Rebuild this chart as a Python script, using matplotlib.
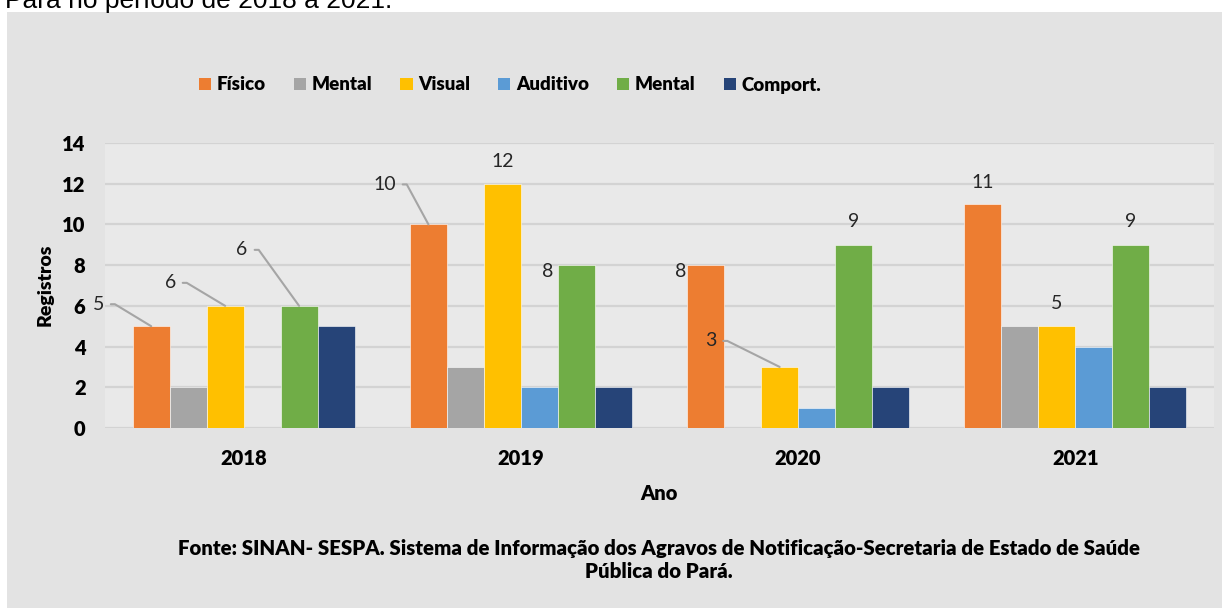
import matplotlib
matplotlib.use("Agg")
import matplotlib.pyplot as plt
from matplotlib.patches import Patch, Rectangle
import numpy as np

plt.rcParams['font.family'] = ['Lato', 'DejaVu Sans']

anos = ['2018', '2019', '2020', '2021']
series = ['Físico', 'Mental', 'Visual', 'Auditivo', 'Mental', 'Comport.']
fisico = [5, 10, 8, 11]
mental = [2, 3, 0, 5]
visual = [6, 12, 3, 5]
auditivo = [0, 2, 1, 4]
mental2 = [6, 8, 9, 9]
comport = [5, 2, 2, 2]
cores = ['#ED7D31', '#A5A5A5', '#FFC000', '#5B9BD5', '#70AD47', '#264478']

valores = [fisico, mental, visual, auditivo, mental2, comport]

# labels shown in the chart: (serie, ano) -> offset of text in px (dx, dy), leader line?
rotulos = {
    (0, 0): (-53, 22, True),
    (2, 0): (-55, 23, True),
    (4, 0): (-57, 56, True),
    (0, 1): (-44, 40, True),
    (2, 1): (0, 22, False),
    (4, 1): (-29, -6, False),
    (0, 2): (-25, -6, False),
    (2, 2): (-69, 26, True),
    (4, 2): (0, 23, False),
    (0, 3): (0, 22, False),
    (2, 3): (0, 23, False),
    (4, 3): (0, 23, False),
}

fig = plt.figure(figsize=(12.22, 6.08), dpi=100)
fig.patch.set_facecolor('white')
fig.patches.append(Rectangle((7/1222, 0), 1, 1 - 12/608, transform=fig.transFigure,
                             facecolor='#e3e3e3', edgecolor='none', zorder=-5))

ax = fig.add_axes([105/1222, 1 - 428/608, (1214 - 105)/1222, (428 - 143)/608])
ax.set_facecolor('#e9e9e9')

x = np.arange(len(anos))
w = 0.8 / len(series)
px = 0.72  # points per pixel at 100 dpi
for j, vals in enumerate(valores):
    pos = x + (j - 2.5) * w
    ax.bar(pos, vals, width=w, color=cores[j], edgecolor='white', linewidth=0.4, zorder=3)
    for i, v in enumerate(vals):
        if (j, i) not in rotulos:
            continue
        dx, dy, linha = rotulos[(j, i)]
        if linha:
            ax.annotate(str(v), xy=(pos[i], v), xytext=(dx * px, dy * px),
                        textcoords='offset points', ha='center', va='center',
                        fontsize=14, color='#262626',
                        arrowprops=dict(arrowstyle='-', color='#a5a5a5', lw=1.5,
                                        relpos=(1, 0.5), shrinkA=3, shrinkB=0,
                                        connectionstyle='arc,angleA=0,armA=11,angleB=0,armB=0,rad=0'))
        else:
            ax.annotate(str(v), xy=(pos[i], v), xytext=(dx * px, dy * px),
                        textcoords='offset points', ha='center', va='center',
                        fontsize=14, color='#262626')

ax.set_xlim(-0.5, 3.5)
ax.set_ylim(0, 14)
ax.set_yticks(range(0, 15, 2))
ax.set_xticks(x)
ax.set_xticklabels(anos)
ax.tick_params(length=0, labelsize=14.5)
ax.tick_params(axis='y', pad=14)
ax.tick_params(axis='x', pad=15)
for lab in ax.get_xticklabels() + ax.get_yticklabels():
    lab.set_fontweight('heavy')
ax.grid(axis='y', color='#d3d3d3', lw=1.6, zorder=0)
ax.set_axisbelow(True)
for s in ax.spines.values():
    s.set_visible(False)

fig.text(45/1222, 1 - 285/608, 'Registros', rotation=90, ha='center', va='center',
         fontsize=14, fontweight='heavy')
fig.text(659/1222, 1 - 493/608, 'Ano', ha='center', va='center',
         fontsize=14.5, fontweight='heavy')

handles = [Patch(facecolor=c, edgecolor='none') for c in cores]
fig.legend(handles, series, loc='center', bbox_to_anchor=(510/1222, 1 - 85/608), ncol=6,
           frameon=False, handlelength=0.65, handleheight=0.65, handletextpad=0.3,
           columnspacing=1.5, prop={'weight': 'heavy', 'size': 13.5})

fig.text(659/1222, 1 - 560/608,
         'Fonte: SINAN- SESPA. Sistema de Informação dos Agravos de Notificação-Secretaria de Estado de Saúde\nPública do Pará.',
         ha='center', va='center', multialignment='center', fontsize=14.7,
         fontweight='heavy', linespacing=1.2)

fig.text(5/1222, 1 - 8/608, 'Pará no período de 2018 a 2021.', ha='left', va='baseline',
         fontsize=19, family='Liberation Sans', color='black')

fig.savefig('out.png', dpi=100)
